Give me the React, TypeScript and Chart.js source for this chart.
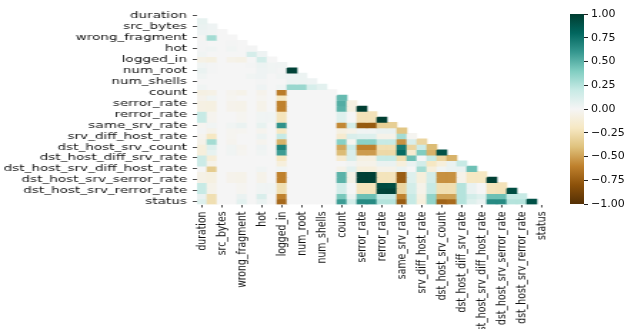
import React, { useEffect, useRef } from 'react';
import { Chart, registerables } from 'chart.js';

Chart.register(...registerables);

// ---------- data ----------
const variables = [
  'duration', 'protocol_type', 'src_bytes', 'dst_bytes', 'wrong_fragment', 'urgent', 'hot',
  'num_failed_logins', 'logged_in', 'num_compromised', 'num_root', 'num_file_creations',
  'num_shells', 'num_access_files', 'count', 'srv_count', 'serror_rate', 'srv_serror_rate',
  'rerror_rate', 'srv_rerror_rate', 'same_srv_rate', 'diff_srv_rate', 'srv_diff_host_rate',
  'dst_host_count', 'dst_host_srv_count', 'dst_host_same_srv_rate', 'dst_host_diff_srv_rate',
  'dst_host_same_src_port_rate', 'dst_host_srv_diff_host_rate', 'dst_host_serror_rate',
  'dst_host_srv_serror_rate', 'dst_host_rerror_rate', 'dst_host_srv_rerror_rate', 'level', 'status',
];

// lower-triangle correlation rows (row i holds columns 0..i-1)
const row00: number[] = [];
const row01 = [0.06];
const row02 = [0.05, 0.03];
const row03 = [0.03, 0.02, 0.0];
const row04 = [-0.01, 0.3, 0.0, 0.0];
const row05 = [0.01, 0.0, 0.0, 0.01, 0.0];
const row06 = [0.01, 0.02, 0.0, 0.02, 0.0, 0.01];
const row07 = [0.02, 0.0, 0.0, 0.0, 0.0, 0.14, 0.03];
const row08 = [-0.06, -0.08, 0.0, -0.05, -0.06, 0.0, 0.15, 0.0];
const row09 = [0.02, 0.01, 0.0, 0.0, 0.0, 0.01, 0.04, 0.02, 0.02];
const row10 = [0.05, 0.01, 0.0, 0.0, 0.0, 0.0, 0.03, 0.02, 0.01, 0.97];
const row11 = [0.02, 0.0, 0.0, 0.0, 0.0, 0.02, 0.03, 0.0, 0.02, 0.03, 0.04];
const row12 = [0.0, 0.0, 0.0, 0.0, 0.0, 0.0, 0.01, 0.0, 0.0, 0.04, 0.04, 0.03];
const row13 = [0.02, 0.0, 0.0, 0.0, 0.0, 0.0, 0.03, 0.0, 0.02, 0.33, 0.33, 0.13, 0.08];
const row14 = [-0.07, -0.06, 0.0, -0.03, -0.05, 0.0, -0.04, 0.0, -0.62, 0.0, 0.0, 0.0, 0.0, 0.0];
const row15 = [-0.04, 0.02, 0.0, -0.02, 0.0, 0.0, -0.02, 0.0, -0.2, 0.0, 0.0, 0.0, 0.0, 0.0, 0.47];
const row16 = [-0.07, -0.08, 0.0, -0.04, -0.05, 0.0, -0.05, 0.0, -0.6, 0.0, 0.0, 0.0, 0.0, 0.0, 0.52, -0.08];
const row17 = [-0.07, -0.08, 0.0, -0.04, -0.05, 0.0, -0.05, 0.0, -0.6, 0.0, 0.0, 0.0, 0.0, 0.0, 0.5, -0.08, 0.99];
const row18 = [0.2, -0.03, 0.0, 0.0, -0.02, 0.0, 0.02, 0.02, -0.22, 0.0, 0.0, 0.0, 0.0, 0.0, 0.1, 0.0, -0.23, -0.23];
const row19 = [0.2, -0.03, 0.0, 0.0, -0.02, 0.0, 0.02, 0.02, -0.22, 0.0, 0.0, 0.0, 0.0, 0.0, 0.1, 0.0, -0.23, -0.23, 0.99];
const row20 = [-0.02, 0.02, 0.0, 0.02, 0.05, 0.0, 0.06, 0.0, 0.62, 0.0, 0.0, 0.0, 0.0, 0.0, -0.58, 0.15, -0.76, -0.76, -0.33, -0.33];
const row21 = [0.01, -0.05, 0.0, -0.02, -0.02, 0.0, -0.03, 0.0, -0.2, 0.0, 0.0, 0.0, 0.0, 0.0, -0.08, -0.05, 0.02, 0.02, 0.05, 0.05, -0.38];
const row22 = [-0.03, -0.2, 0.0, -0.02, 0.0, 0.0, 0.04, 0.0, 0.2, 0.0, 0.0, 0.0, 0.0, 0.0, -0.15, 0.12, 0.1, 0.1, -0.05, -0.05, 0.3, -0.02];
const row23 = [-0.05, 0.3, 0.0, -0.03, 0.0, 0.0, -0.03, 0.0, -0.45, 0.0, 0.0, 0.0, 0.0, 0.0, 0.38, -0.02, 0.37, 0.37, 0.2, 0.2, -0.55, 0.12, -0.3];
const row24 = [-0.1, 0.1, 0.0, 0.02, -0.03, 0.0, 0.03, 0.0, 0.68, 0.0, 0.0, 0.0, 0.0, 0.0, -0.48, 0.18, -0.6, -0.6, -0.25, -0.25, 0.72, -0.3, 0.18, -0.42];
const row25 = [-0.1, 0.06, 0.0, 0.02, -0.02, 0.0, 0.02, 0.0, 0.58, 0.0, 0.0, 0.0, 0.0, 0.0, -0.42, 0.12, -0.52, -0.52, -0.28, -0.28, 0.78, -0.15, 0.4, -0.45, 0.9];
const row26 = [0.18, -0.12, 0.0, 0.0, 0.0, 0.0, 0.0, 0.0, -0.2, 0.0, 0.0, 0.0, 0.0, 0.0, -0.15, 0.12, -0.08, -0.08, 0.2, 0.2, -0.25, 0.45, 0.0, 0.2, -0.3, -0.45];
const row27 = [0.18, -0.05, 0.0, 0.0, 0.0, 0.0, 0.0, 0.0, -0.1, 0.0, 0.0, 0.0, 0.0, 0.0, 0.0, 0.02, -0.05, -0.05, 0.05, 0.05, -0.1, 0.05, 0.15, -0.2, -0.1, 0.05, 0.2];
const row28 = [0.0, -0.35, 0.0, 0.0, 0.0, 0.0, 0.02, 0.0, 0.02, 0.0, 0.0, 0.0, 0.0, 0.0, -0.05, 0.08, -0.1, -0.1, -0.05, -0.05, 0.05, 0.0, 0.3, -0.1, 0.02, 0.05, 0.05, 0.45];
const row29 = [-0.06, -0.08, 0.0, -0.04, -0.05, 0.0, -0.05, 0.0, -0.6, 0.0, 0.0, 0.0, 0.0, 0.0, 0.5, -0.06, 0.98, 0.98, -0.22, -0.22, -0.75, 0.1, -0.1, 0.15, -0.55, -0.55, -0.05, -0.2, -0.2];
const row30 = [-0.06, -0.08, 0.0, -0.04, -0.05, 0.0, -0.05, 0.0, -0.6, 0.0, 0.0, 0.0, 0.0, 0.0, 0.5, -0.06, 0.98, 0.98, -0.22, -0.22, -0.75, 0.1, -0.1, 0.15, -0.55, -0.55, -0.05, -0.2, -0.2, 0.98];
const row31 = [0.2, -0.05, 0.0, 0.0, -0.02, 0.0, 0.02, 0.02, -0.25, 0.0, 0.0, 0.0, 0.0, 0.0, 0.15, 0.0, -0.22, -0.22, 0.93, 0.92, -0.3, 0.15, -0.05, 0.2, -0.25, -0.25, 0.25, 0.05, 0.0, -0.22, -0.23];
const row32 = [0.2, -0.05, 0.0, 0.0, -0.02, 0.0, 0.02, 0.02, -0.25, 0.0, 0.0, 0.0, 0.0, 0.0, 0.15, 0.0, -0.22, -0.22, 0.96, 0.97, -0.3, 0.15, -0.05, 0.2, -0.25, -0.25, 0.25, 0.05, 0.0, -0.22, -0.23, 0.92];
const row33 = [0.05, -0.25, 0.0, 0.0, 0.05, 0.0, 0.12, 0.0, -0.6, 0.0, 0.0, 0.0, 0.0, 0.0, 0.42, 0.05, 0.45, 0.45, 0.2, 0.2, -0.6, 0.2, -0.08, 0.35, -0.5, -0.5, 0.25, 0.15, 0.1, 0.45, 0.45, 0.2, 0.2];
const row34 = [0.1, -0.25, 0.0, 0.0, 0.08, 0.0, 0.05, 0.0, -0.7, 0.0, 0.0, 0.0, 0.0, 0.0, 0.58, 0.15, 0.65, 0.65, 0.25, 0.25, -0.75, 0.2, -0.1, 0.35, -0.72, -0.69, 0.25, 0.1, 0.05, 0.65, 0.65, 0.25, 0.25, 0.9];

const corrRows = [
  row00, row01, row02, row03, row04, row05, row06, row07, row08, row09,
  row10, row11, row12, row13, row14, row15, row16, row17, row18, row19,
  row20, row21, row22, row23, row24, row25, row26, row27, row28, row29,
  row30, row31, row32, row33, row34,
];

const colorbarTicks = [-1, -0.75, -0.5, -0.25, 0, 0.25, 0.5, 0.75, 1];

// ---------- style ----------
const BRBG = ['#543005', '#8c510a', '#bf812d', '#dfc27d', '#f6e8c3', '#f5f5f5', '#c7eae5', '#80cdc1', '#35978f', '#01665e', '#003c30'];
const FONT = 'DejaVu Sans';
const TEXT = '#111111';

function hexRgb(h: string) {
  return [parseInt(h.slice(1, 3), 16), parseInt(h.slice(3, 5), 16), parseInt(h.slice(5, 7), 16)];
}
function brbg(v: number) {
  const t = Math.max(0, Math.min(1, (v + 1) / 2)) * (BRBG.length - 1);
  const i = Math.min(BRBG.length - 2, Math.floor(t));
  const f = t - i;
  const a = hexRgb(BRBG[i]);
  const b = hexRgb(BRBG[i + 1]);
  const c = a.map((x, k) => Math.round(x + (b[k] - x) * f));
  return `rgb(${c[0]},${c[1]},${c[2]})`;
}

// page geometry (CSS px)
const PAGE_W = 631;
const PAGE_H = 329;
const HM_CANVAS_W = 442; // horizontally stretched to PAGE_W
const HM_LEFT = 138; // chart area left, canvas px
const HM_RIGHT = 383; // chart area right, canvas px
const HM_TOP = 13;
const HM_BOTTOM = 204.5;

const CB_LEFT_CSS = 540;
const CB_W = 91;

function Heatmap() {
  const ref = useRef<HTMLCanvasElement | null>(null);
  useEffect(() => {
    if (!ref.current) return;
    const n = variables.length;
    const datasets = corrRows.map((row, i) => ({
      data: variables.map((_, j) => (j < row.length ? [i, i + 1] : null)),
      backgroundColor: variables.map((_, j) => (j < row.length ? brbg(row[j]) : 'rgba(0,0,0,0)')),
      borderWidth: 0,
      barPercentage: 1,
      categoryPercentage: 1,
      grouped: false,
    }));
    const tickCol = (ctx: any) => (ctx.index % 2 === 0 ? '#222222' : 'rgba(0,0,0,0)');
    const chart = new Chart(ref.current, {
      type: 'bar',
      data: { labels: variables, datasets: datasets as any },
      options: {
        responsive: false,
        animation: false,
        devicePixelRatio: 1,
        layout: { padding: { left: 0, top: HM_TOP, right: HM_CANVAS_W - HM_RIGHT, bottom: 0 } },
        plugins: { legend: { display: false }, tooltip: { enabled: false } },
        scales: {
          x: {
            type: 'category',
            offset: true,
            grid: { offset: false, drawOnChartArea: false, drawTicks: true, tickLength: 3, tickColor: tickCol, tickWidth: 0.8 } as any,
            border: { display: false },
            ticks: {
              autoSkip: false,
              minRotation: 90,
              maxRotation: 90,
              padding: 4,
              color: TEXT,
              font: { family: FONT, size: 9.3 },
              callback: (_v: any, i: number) => (i % 2 === 0 ? variables[i] : ''),
            },
            afterFit: (s: any) => { s.height = PAGE_H - HM_BOTTOM; },
          },
          y: {
            type: 'linear',
            reverse: true,
            min: 0,
            max: n,
            grid: { drawOnChartArea: false, drawTicks: true, tickLength: 3, tickColor: '#222222', tickWidth: 0.8 } as any,
            border: { display: false },
            afterBuildTicks: (s: any) => {
              s.ticks = variables.map((_, i) => ({ value: i + 0.5 })).filter((_, i) => i % 2 === 0);
            },
            ticks: {
              autoSkip: false,
              padding: 4,
              color: TEXT,
              font: { family: FONT, size: 9.5 },
              callback: (v: any) => variables[Math.round(Number(v) - 0.5)],
            },
            afterFit: (s: any) => { s.width = HM_LEFT; },
          },
        },
      },
    });
    return () => chart.destroy();
  }, []);
  return (
    <canvas
      ref={ref}
      width={HM_CANVAS_W}
      height={PAGE_H}
      style={{ position: 'absolute', left: 0, top: 0, width: PAGE_W + 'px', height: PAGE_H + 'px', display: 'block' }}
    />
  );
}

function Colorbar() {
  const ref = useRef<HTMLCanvasElement | null>(null);
  useEffect(() => {
    if (!ref.current) return;
    const fill = (ctx: any) => {
      const area = ctx.chart.chartArea;
      if (!area) return BRBG[5];
      const g = ctx.chart.ctx.createLinearGradient(0, area.bottom, 0, area.top);
      BRBG.forEach((c, k) => g.addColorStop(k / (BRBG.length - 1), c));
      return g;
    };
    const lo = colorbarTicks[0];
    const hi = colorbarTicks[colorbarTicks.length - 1];
    const chart = new Chart(ref.current, {
      type: 'bar',
      data: {
        labels: [''],
        datasets: [{ data: [[lo, hi]] as any, backgroundColor: fill, borderWidth: 0, barPercentage: 1, categoryPercentage: 1 }],
      },
      options: {
        responsive: false,
        animation: false,
        devicePixelRatio: 1,
        layout: { padding: { left: 30, top: 14, right: 0, bottom: PAGE_H - 204 } },
        plugins: { legend: { display: false }, tooltip: { enabled: false } },
        scales: {
          x: { display: false },
          y: {
            position: 'right',
            min: lo,
            max: hi,
            grid: { drawOnChartArea: false, drawTicks: true, tickLength: 4, tickColor: '#222222' } as any,
            border: { display: false },
            afterBuildTicks: (s: any) => { s.ticks = colorbarTicks.map((v) => ({ value: v })); },
            ticks: {
              autoSkip: false,
              padding: 3,
              color: TEXT,
              font: { family: FONT, size: 11 },
              callback: (v: any) => (Number(v) < 0 ? '\u2212' : '') + Math.abs(Number(v)).toFixed(2),
            },
            afterFit: (s: any) => { s.width = CB_W - 44; },
          },
        },
      },
    });
    return () => chart.destroy();
  }, []);
  return (
    <canvas
      ref={ref}
      width={CB_W}
      height={PAGE_H}
      style={{ position: 'absolute', left: CB_LEFT_CSS + 'px', top: 0, width: CB_W + 'px', height: PAGE_H + 'px', display: 'block' }}
    />
  );
}

export default function App() {
  return (
    <div style={{ position: 'fixed', left: 0, top: 0, width: PAGE_W, height: PAGE_H, background: '#ffffff', overflow: 'hidden' }}>
      <Heatmap />
      <Colorbar />
    </div>
  );
}
